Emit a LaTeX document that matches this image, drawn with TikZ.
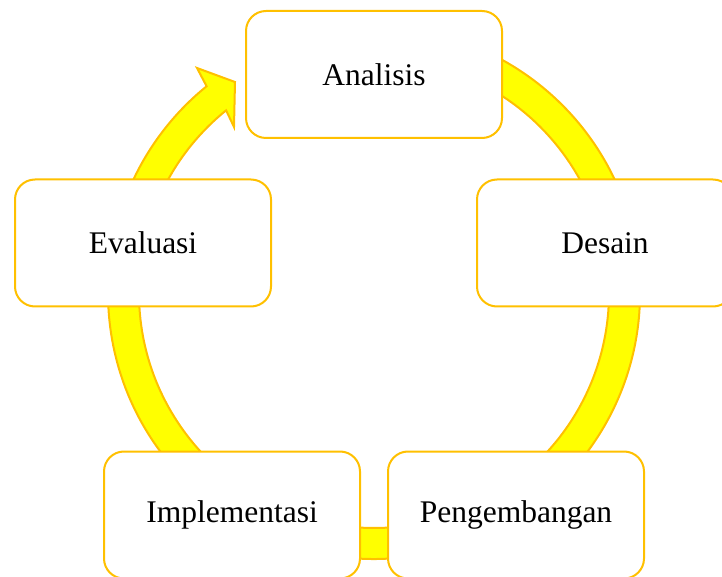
\documentclass[tikz,border=0pt]{standalone}
\usepackage{fontspec}
\setmainfont{Liberation Serif}
\usetikzlibrary{calc}
\definecolor{ringfill}{HTML}{FFFF00}
\definecolor{gold}{HTML}{FFC000}
\begin{document}
\begin{tikzpicture}[x=1pt,y=1pt,
  stagebox/.style={draw=gold, line width=2pt, fill=white, rounded corners=20pt,
    minimum width=256pt, minimum height=127pt, inner sep=0pt,
    font=\fontsize{31.5}{36}\selectfont},
  ring/.style={fill=ringfill, draw=gold, line width=2pt, line join=miter}]
\clip (0,0) rectangle (722,576);
\useasboundingbox (0,0) rectangle (722,576);
\coordinate (c) at (374,283);
\coordinate (barbout) at (197,508);
\coordinate (tip) at (235,494);
\coordinate (barbin) at (234,449);
\draw[ring] (c) ++(95:266) arc[start angle=95, end angle=-231, radius=266]
  -- (barbout) -- (tip) -- (barbin)
  -- ($(c)+(-231:235)$) arc[start angle=-231, end angle=95, radius=235] -- cycle;
\node[stagebox] (ana) at (374,501.5) {Analisis};
\node[stagebox] (des) at (605,333) {Desain};
\node[stagebox] (eva) at (143,333) {Evaluasi};
\node[stagebox] (imp) at (232,61) {Implementasi};
\node[stagebox] (pen) at (516,61) {Pengembangan};
\end{tikzpicture}
\end{document}
